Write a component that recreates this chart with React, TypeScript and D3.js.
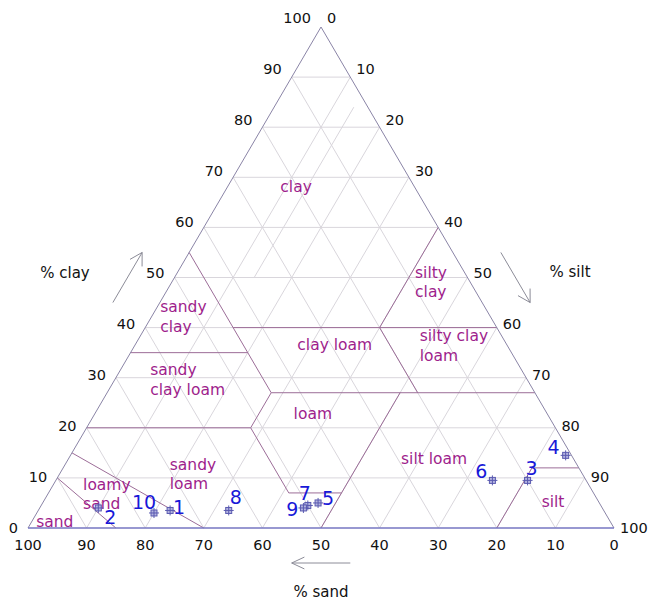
import React from "react";
import * as d3 from "d3";

const WIDTH = 649;
const HEIGHT = 600;

// Tick values shared by the three axes (percent)
const tickValues = d3.range(0, 101, 10);

// Soil samples (percent sand / silt / clay)
const sampleIds = ["1", "2", "3", "4", "5", "6", "7", "8", "9", "10"];
const sampleSand = [74, 86, 10, 1, 48, 16, 50, 64, 51, 77];
const sampleSilt = [22.5, 10, 80.5, 84.5, 47, 74.5, 45.5, 32.5, 45, 20];
const sampleClay = [3.5, 4, 9.5, 14.5, 5, 9.5, 4.5, 3.5, 4, 3];

// USDA texture class boundaries, each segment as [sand, silt, clay] end points
type Tern = [number, number, number];
const classBoundaries: [Tern, Tern][] = [
  [[90, 0, 10], [85, 15, 0]],
  [[85, 0, 15], [70, 30, 0]],
  [[80, 0, 20], [52, 28, 20]],
  [[52, 28, 20], [52, 41, 7]],
  [[52, 41, 7], [43, 50, 7]],
  [[52, 28, 20], [45, 28, 27]],
  [[65, 0, 35], [45, 20, 35]],
  [[45, 0, 55], [45, 28, 27]],
  [[45, 15, 40], [0, 60, 40]],
  [[20, 40, 40], [0, 40, 60]],
  [[20, 40, 40], [20, 53, 27]],
  [[45, 28, 27], [0, 73, 27]],
  [[50, 50, 0], [23, 50, 27]],
  [[20, 80, 0], [8, 80, 12]],
  [[8, 80, 12], [0, 88, 12]],
];

// A stray guide segment in the clay field
const strayGuide: [Tern, Tern] = [[2.4, 13.6, 84], [36.4, 13.6, 50]];

// Texture class names, anchored at [sand, silt, clay]
const classNames = [
  "clay", "silty clay", "sandy clay", "clay loam", "silty clay loam",
  "sandy clay loam", "loam", "silt loam", "sandy loam", "loamy sand", "sand", "silt",
];
const classLines = [
  ["clay"], ["silty", "clay"], ["sandy", "clay"], ["clay loam"], ["silty clay", "loam"],
  ["sandy", "clay loam"], ["loam"], ["silt loam"], ["sandy", "loam"], ["loamy", "sand"], ["sand"], ["silt"],
];
const classAnchor: Tern[] = [
  [20.2, 11.7, 68.1], [8.5, 40.6, 50.9], [55.4, 0.5, 44.1], [29.4, 34.1, 36.5],
  [14, 47.7, 38.3], [63.4, 5.1, 31.5], [40, 37.2, 22.8], [23.8, 62.4, 13.8],
  [69.5, 17.9, 12.6], [86.3, 5.1, 8.6], [98, 0.8, 1.2], [7.8, 87, 5.2],
];
const classAlign = ["middle", "start", "start", "middle", "start", "start", "middle", "middle", "start", "start", "start", "middle"];

// Label offsets (px) of each sample number from its marker
const numDx = [9, 12, 4, -12, 10, -11, -3, 7, -11, -10];
const numDy = [-3, 9, -12, -8, -5, -9, -12, -13, 1, -11];

const xs = d3.scaleLinear().domain([0, 100]).range([28, 614]);
const ys = d3.scaleLinear().domain([0, 100]).range([528, 27]);

function pt(t: Tern): [number, number] {
  const s = t[0] + t[1] + t[2];
  const silt = (t[1] / s) * 100;
  const clay = (t[2] / s) * 100;
  return [xs(silt + clay / 2), ys(clay)];
}

const line = d3.line<[number, number]>();

function seg(a: Tern, b: Tern) {
  return line([pt(a), pt(b)]) as string;
}

function arrow(x1: number, y1: number, x2: number, y2: number, len: number, half: number) {
  const ang = Math.atan2(y1 - y2, x1 - x2);
  const a1 = ang + (half * Math.PI) / 180;
  const a2 = ang - (half * Math.PI) / 180;
  return (
    `M${x1},${y1}L${x2},${y2}` +
    `M${x2 + len * Math.cos(a1)},${y2 + len * Math.sin(a1)}L${x2},${y2}` +
    `L${x2 + len * Math.cos(a2)},${y2 + len * Math.sin(a2)}`
  );
}

const FONT = "'DejaVu Sans', Verdana, sans-serif";
const GRID = "#d9d6dc";
const BOUND = "#9c6d98";
const LABEL = "#9e1e8c";
const NUM = "#1818d8";

export default function App() {
  const inner = d3.range(10, 100, 10);

  // axis arrows, offset from the triangle edges
  const clayA = pt([55, 0, 45]);
  const clayB = pt([45, 0, 55]);
  const siltA = pt([0, 45, 55]);
  const siltB = pt([0, 55, 45]);
  const sandA = pt([45, 55, 0]);
  const sandB = pt([55, 45, 0]);

  const top = pt([0, 0, 100]);
  const bl = pt([100, 0, 0]);
  const br = pt([0, 100, 0]);

  return (
    <svg
      width={WIDTH}
      height={HEIGHT}
      style={{ position: "absolute", left: 0, top: 0, background: "#fff" }}
      fontFamily={FONT}
    >
      {/* 10 % grid */}
      <g stroke={GRID} strokeWidth={1} fill="none">
        {inner.map((v) => (
          <g key={v}>
            <path d={seg([100 - v, 0, v], [0, 100 - v, v])} />
            <path d={seg([v, 0, 100 - v], [v, 100 - v, 0])} />
            <path d={seg([0, v, 100 - v], [100 - v, v, 0])} />
          </g>
        ))}
        <path d={seg(strayGuide[0], strayGuide[1])} />
      </g>

      {/* texture class boundaries */}
      <g stroke={BOUND} strokeWidth={1} fill="none">
        {classBoundaries.map((b, i) => (
          <path key={i} d={seg(b[0], b[1])} />
        ))}
      </g>

      {/* triangle outline */}
      <g fill="none" strokeWidth={1}>
        <path d={line([bl, top, br]) as string} stroke="#8a84a6" />
        <path d={line([bl, br]) as string} stroke="#7676c2" strokeWidth={1.3} />
      </g>

      {/* tick labels */}
      <g fontSize={14.5} fill="#111">
        {tickValues.map((v) => {
          const [x, y] = pt([100 - v, 0, v]);
          return (
            <text key={"c" + v} x={x - 10} y={y - v * 0.09} textAnchor="end" dominantBaseline="central">
              {v}
            </text>
          );
        })}
        {tickValues.map((v) => {
          const [x, y] = pt([0, v, 100 - v]);
          return (
            <text key={"s" + v} x={x + 6} y={y - (100 - v) * 0.09} textAnchor="start" dominantBaseline="central">
              {v}
            </text>
          );
        })}
        {tickValues.map((v) => {
          const [x, y] = pt([v, 100 - v, 0]);
          return (
            <text key={"d" + v} x={x} y={y + 17} textAnchor="middle" dominantBaseline="central">
              {v}
            </text>
          );
        })}
      </g>

      {/* axis arrows and titles */}
      <g stroke="#8c8c98" strokeWidth={1} fill="none">
        <path d={arrow(clayA[0] - 47, clayA[1], clayB[0] - 47, clayB[1], 14, 30)} />
        <path d={arrow(siltA[0] + 48, siltA[1], siltB[0] + 48, siltB[1], 14, 30)} />
        <path d={arrow(sandA[0], sandA[1] + 35, sandB[0], sandB[1] + 35, 14, 25)} />
      </g>
      <g fontSize={15} fill="#111" textAnchor="middle" dominantBaseline="central">
        <text x={65} y={273}>% clay</text>
        <text x={570} y={272}>% silt</text>
        <text x={(sandA[0] + sandB[0]) / 2} y={592}>% sand</text>
      </g>

      {/* texture class names */}
      <g fontSize={15.5} fill={LABEL}>
        {classNames.map((name, i) => {
          const [x, y] = pt(classAnchor[i]);
          return (
            <text key={name} x={x} y={y} textAnchor={classAlign[i] as any} dominantBaseline="central">
              {classLines[i].map((l, j) => (
                <tspan key={j} x={x} y={y + j * 19.5}>
                  {l}
                </tspan>
              ))}
            </text>
          );
        })}
      </g>

      {/* samples */}
      <g>
        {sampleIds.map((id, i) => {
          const [x, y] = pt([sampleSand[i], sampleSilt[i], sampleClay[i]]);
          return (
            <g key={id}>
              <rect x={x - 3} y={y - 3} width={6} height={6} fill="#b4b4e0" stroke="#5a5ab0" strokeWidth={1} />
              <path d={`M${x - 5},${y}L${x + 5},${y}M${x},${y - 5}L${x},${y + 5}`} stroke="#5a5ab0" strokeWidth={1} />
              <text
                x={x + numDx[i]}
                y={y + numDy[i]}
                fontSize={19}
                fill={NUM}
                textAnchor="middle"
                dominantBaseline="central"
              >
                {id}
              </text>
            </g>
          );
        })}
      </g>
    </svg>
  );
}
